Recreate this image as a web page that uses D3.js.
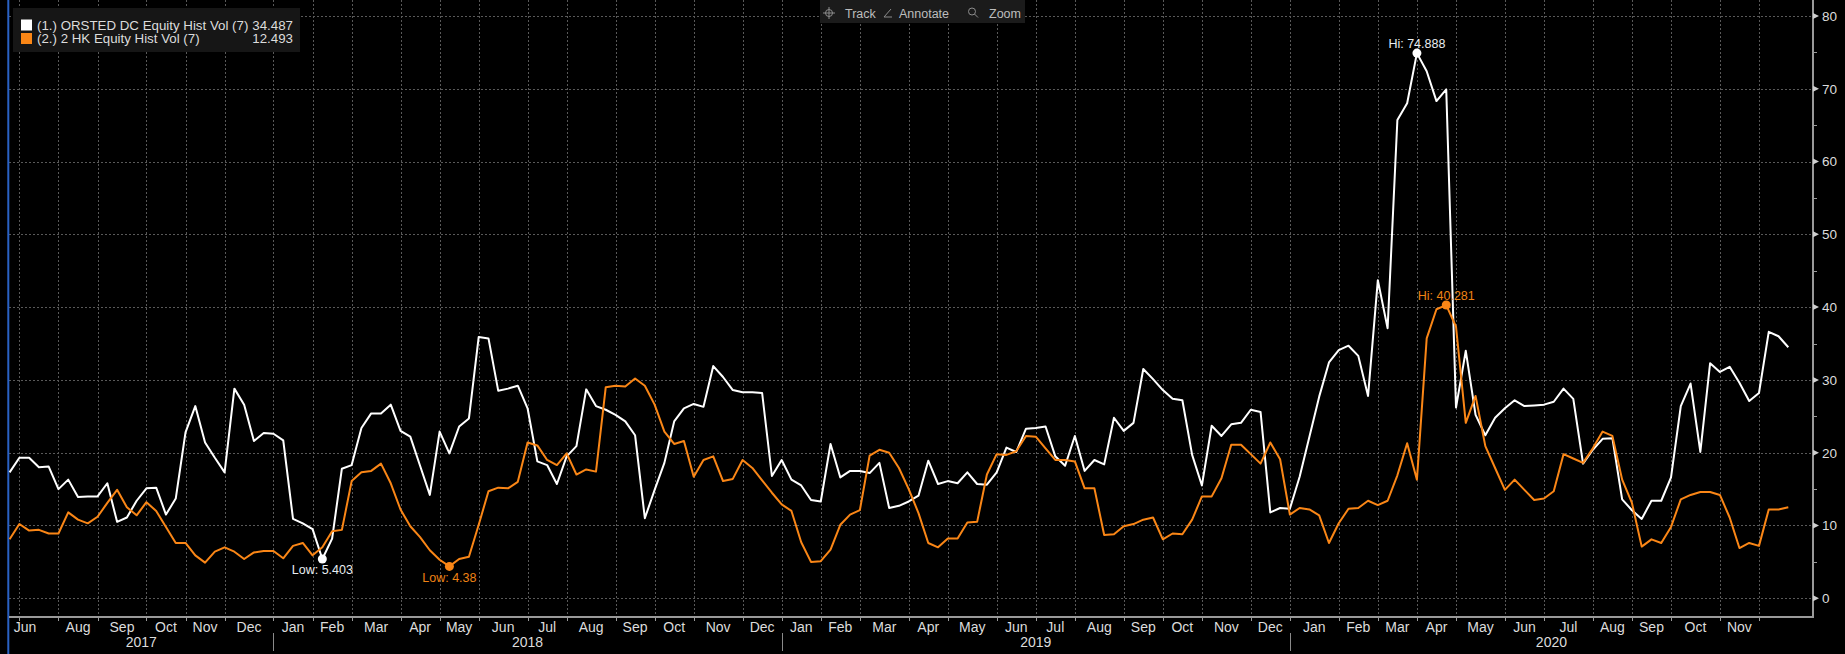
<!DOCTYPE html>
<html>
<head>
<meta charset="utf-8">
<script src="https://cdn.jsdelivr.net/npm/d3@7"></script>
<style>
  body { margin: 0; background: #000; overflow: hidden; }
  svg { display: block; }
  text { font-family: "Liberation Sans", Arial, sans-serif; }
  .narrow { font-family: "Liberation Sans Narrow", "Arial Narrow", "Liberation Sans", sans-serif; }
</style>
</head>
<body>
<svg id="chart" width="1845" height="654"></svg>
<script>
// weekly observations (Fridays), first one on 30 Jun 2017
const firstDate = new Date(2017, 5, 30);

const orstedVol = [
  17.3, 19.3, 19.3, 18.0, 18.1, 15.0, 16.3, 13.9, 14.0, 14.0,
  15.8, 10.5, 11.1, 13.4, 15.1, 15.2, 11.5, 13.7, 22.8, 26.4,
  21.4, 19.3, 17.3, 28.8, 26.6, 21.6, 22.7, 22.6, 21.7, 10.9,
  10.3, 9.5, 5.403, 8.2, 17.8, 18.3, 23.4, 25.4, 25.4, 26.6,
  23.0, 22.2, 18.2, 14.2, 22.9, 19.9, 23.6, 24.7, 35.9, 35.7,
  28.5, 28.8, 29.2, 26.1, 18.8, 18.3, 15.7, 19.5, 20.9, 28.7,
  26.4, 25.9, 25.2, 24.3, 22.4, 11.0, 14.9, 18.6, 24.3, 26.1,
  26.7, 26.3, 31.9, 30.4, 28.6, 28.3, 28.3, 28.2, 16.8, 19.0,
  16.3, 15.5, 13.5, 13.3, 21.2, 16.6, 17.5, 17.5, 17.2, 18.6,
  12.4, 12.7, 13.3, 14.1, 18.9, 15.7, 16.1, 15.8, 17.3, 15.7,
  15.6, 17.3, 20.7, 20.1, 23.3, 23.4, 23.6, 19.5, 18.2, 22.3,
  17.5, 19.0, 18.4, 24.8, 23.0, 24.1, 31.5, 30.1, 28.6, 27.4,
  27.2, 19.7, 15.5, 23.7, 22.3, 23.9, 24.1, 25.9, 25.6, 11.8,
  12.4, 12.3, 16.7, 22.2, 27.7, 32.4, 34.1, 34.7, 33.3, 27.8,
  43.7, 37.1, 65.7, 68.0, 74.888, 72.4, 68.3, 69.9, 26.2, 34.0,
  25.2, 22.4, 24.8, 26.1, 27.2, 26.4, 26.5, 26.6, 27.0, 28.8,
  27.4, 18.5, 20.4, 21.9, 22.0, 13.6, 12.1, 10.9, 13.4, 13.4,
  16.6, 26.4, 29.5, 20.1, 32.3, 31.1, 31.8, 29.6, 27.1, 28.2,
  36.6, 36.0, 34.487
];

const hkVol = [
  8.1, 10.2, 9.3, 9.4, 8.9, 8.9, 11.8, 10.8, 10.3, 11.2,
  13.1, 14.9, 12.5, 11.4, 13.2, 12.0, 9.8, 7.6, 7.6, 5.9,
  4.9, 6.4, 7.0, 6.4, 5.4, 6.3, 6.5, 6.5, 5.5, 7.2,
  7.6, 5.9, 7.0, 9.2, 9.4, 16.1, 17.3, 17.5, 18.5, 15.8,
  12.2, 9.9, 8.4, 6.6, 5.3, 4.38, 5.4, 5.7, 10.1, 14.7,
  15.2, 15.1, 16.0, 21.4, 21.0, 19.0, 18.3, 19.9, 17.0, 17.7,
  17.4, 29.0, 29.2, 29.1, 30.2, 29.2, 26.6, 22.9, 21.2, 21.6,
  16.7, 19.0, 19.5, 16.1, 16.4, 19.0, 17.9, 16.2, 14.5, 12.9,
  12.0, 7.7, 5.0, 5.1, 6.7, 10.1, 11.5, 12.1, 19.6, 20.4,
  20.0, 17.9, 15.0, 11.7, 7.6, 7.0, 8.2, 8.2, 10.4, 10.5,
  17.0, 19.8, 19.7, 20.2, 22.3, 22.2, 20.6, 19.0, 19.0, 18.8,
  15.1, 15.1, 8.7, 8.8, 9.9, 10.2, 10.8, 11.1, 8.1, 8.9,
  8.8, 10.8, 14.0, 14.0, 16.5, 21.1, 21.1, 19.8, 18.5, 21.4,
  19.1, 11.5, 12.4, 12.2, 11.4, 7.6, 10.3, 12.3, 12.4, 13.4,
  12.8, 13.4, 16.9, 21.3, 16.3, 35.7, 39.7, 40.281, 37.3, 24.1,
  27.8, 20.9, 17.9, 14.9, 16.3, 14.9, 13.5, 13.7, 14.7, 19.8,
  19.2, 18.6, 20.6, 22.9, 22.3, 16.3, 13.1, 7.1, 8.1, 7.6,
  9.8, 13.6, 14.2, 14.6, 14.6, 14.2, 11.1, 6.9, 7.6, 7.2,
  12.2, 12.2, 12.493
];

const seriesNames = ["(1.) ORSTED DC Equity Hist Vol (7)", "(2.) 2 HK Equity Hist Vol (7)"];
const seriesColors = ["#ffffff", "#fa8616"];
const yTicks = [0, 10, 20, 30, 40, 50, 60, 70, 80];
const yMinorTicks = [5, 15, 25, 35, 45, 55, 65, 75];
const monthNames = ["Jan", "Feb", "Mar", "Apr", "May", "Jun", "Jul", "Aug", "Sep", "Oct", "Nov", "Dec"];
const toolbarItems = ["Track", "Annotate", "Zoom"];

const dates = orstedVol.map((_, i) => d3.timeDay.offset(firstDate, 7 * i));

const H = 654;
const left = 9, right = 1813, axisY = 617;
const gridCol = "#595959", axisCol = "#9a9a9a", textCol = "#dcdcdc";

const svg = d3.select("#chart");

const x = d3.scaleTime().domain([dates[0], dates[dates.length - 1]]).range([9.6, 1788.3]);
const y = d3.scaleLinear().domain([0, 80]).range([598.3, 15.9]);

// first observation of each month -> grid lines
const monthStarts = dates.filter((d, i) => i > 0 && d.getMonth() !== dates[i - 1].getMonth());

const grid = svg.append("g").attr("stroke", gridCol).attr("stroke-width", 1).attr("stroke-dasharray", "2,2");
grid.selectAll(".vg").data(monthStarts).enter().append("line")
  .attr("x1", d => Math.round(x(d)) + 0.5).attr("x2", d => Math.round(x(d)) + 0.5)
  .attr("y1", 0).attr("y2", axisY);
grid.selectAll(".hg").data(yTicks).enter().append("line")
  .attr("x1", left).attr("x2", right)
  .attr("y1", d => Math.round(y(d)) + 0.5).attr("y2", d => Math.round(y(d)) + 0.5);

// blue frame edge on the left
svg.append("line").attr("x1", 8.3).attr("x2", 8.3).attr("y1", 0).attr("y2", H)
  .attr("stroke", "#2a62c4").attr("stroke-width", 2);

// axes
svg.append("line").attr("x1", left).attr("x2", right + 1).attr("y1", axisY).attr("y2", axisY)
  .attr("stroke", axisCol).attr("stroke-width", 2);
svg.append("line").attr("x1", right).attr("x2", right).attr("y1", 0).attr("y2", axisY)
  .attr("stroke", axisCol).attr("stroke-width", 2);

// x ticks
svg.append("g").selectAll("line").data(monthStarts).enter().append("line")
  .attr("x1", d => Math.round(x(d)) + 0.5).attr("x2", d => Math.round(x(d)) + 0.5)
  .attr("y1", axisY).attr("y2", axisY + 4).attr("stroke", axisCol);

// month labels centred between month grid lines
const bounds = [x.invert(left)].concat(monthStarts);
const monthLabels = [];
for (let i = 0; i < bounds.length - 1; i++) {
  let cx = (x(bounds[i]) + x(bounds[i + 1])) / 2;
  const mDate = i === 0 ? dates[0] : bounds[i];
  if (i === 0) cx = Math.max(cx, left + 16);
  const prev = monthLabels[monthLabels.length - 1];
  if (prev && cx - prev.cx < 26) continue;
  monthLabels.push({cx, text: monthNames[mDate.getMonth()]});
}
svg.append("g").selectAll("text").data(monthLabels).enter().append("text")
  .attr("class", "narrow")
  .attr("x", d => d.cx).attr("y", 631.5)
  .attr("text-anchor", "middle").attr("font-size", 14).attr("fill", textCol)
  .text(d => d.text);

// year labels and separators
const yearStarts = monthStarts.filter(d => d.getMonth() === 0);
const yearEdges = [left].concat(yearStarts.map(d => x(d)), [right]);
const years = [2017].concat(yearStarts.map(d => d.getFullYear()));
svg.append("g").selectAll("text").data(years).enter().append("text")
  .attr("class", "narrow")
  .attr("x", (d, i) => (yearEdges[i] + yearEdges[i + 1]) / 2).attr("y", 646.5)
  .attr("text-anchor", "middle").attr("font-size", 14).attr("fill", textCol)
  .text(d => d);
svg.append("g").selectAll("line").data(yearStarts).enter().append("line")
  .attr("x1", d => Math.round(x(d)) + 0.5).attr("x2", d => Math.round(x(d)) + 0.5)
  .attr("y1", 633).attr("y2", 651).attr("stroke", "#8a8a8a");

// right y axis: triangles at majors, short ticks at minors
const yAxis = svg.append("g");
yAxis.selectAll("path").data(yTicks).enter().append("path")
  .attr("d", d => `M${right},${y(d) - 3}L${right + 6},${y(d)}L${right},${y(d) + 3}Z`)
  .attr("fill", "#cfcfcf");
yAxis.selectAll("line").data(yMinorTicks).enter().append("line")
  .attr("x1", right).attr("x2", right + 4)
  .attr("y1", d => Math.round(y(d)) + 0.5).attr("y2", d => Math.round(y(d)) + 0.5)
  .attr("stroke", axisCol);
yAxis.selectAll("text").data(yTicks).enter().append("text")
  .attr("x", right + 9).attr("y", d => y(d) + 4.8)
  .attr("font-size", 13.5).attr("fill", textCol).text(d => d);

// series lines
const line = d3.line().x((d, i) => x(dates[i])).y(d => y(d));
[orstedVol, hkVol].forEach((s, k) => {
  svg.append("path").datum(s).attr("d", line)
    .attr("fill", "none").attr("stroke", seriesColors[k]).attr("stroke-width", 2)
    .attr("stroke-linejoin", "round");
});

// high / low markers
const markerCols = ["#e9eef2", "#f08314"];
[orstedVol, hkVol].forEach((s, k) => {
  const hiI = d3.maxIndex(s), loI = d3.minIndex(s);
  [[hiI, "Hi: ", -5.5], [loI, "Low: ", 15.5]].forEach(([i, pre, dy]) => {
    svg.append("circle").attr("cx", x(dates[i])).attr("cy", y(s[i])).attr("r", 4.5)
      .attr("fill", seriesColors[k]);
    svg.append("text").attr("x", x(dates[i])).attr("y", y(s[i]) + dy)
      .attr("text-anchor", "middle").attr("font-size", 12.5).attr("fill", markerCols[k])
      .text(pre + s[i]);
  });
});

// legend
const lg = svg.append("g");
lg.append("rect").attr("x", 13).attr("y", 8).attr("width", 287).attr("height", 44).attr("fill", "#161616");
[orstedVol, hkVol].forEach((s, k) => {
  const cy = 25 + k * 13.5;
  lg.append("rect").attr("x", 21).attr("y", cy - 5.5).attr("width", 11).attr("height", 11)
    .attr("fill", seriesColors[k]);
  lg.append("text").attr("x", 37).attr("y", cy + 4.5).attr("font-size", 13.3).attr("fill", textCol)
    .text(seriesNames[k]);
  lg.append("text").attr("x", 293).attr("y", cy + 4.5).attr("font-size", 13.3).attr("fill", textCol)
    .attr("text-anchor", "end").text(d3.format(".3f")(s[s.length - 1]));
});

// toolbar
const tb = svg.append("g");
tb.append("rect").attr("x", 820).attr("y", 0).attr("width", 205).attr("height", 23).attr("fill", "#1b1b1b");
const tbX = [845, 899, 989];
tb.selectAll("text").data(toolbarItems).enter().append("text")
  .attr("x", (d, i) => tbX[i]).attr("y", 18).attr("font-size", 12.5).attr("fill", "#bdbdbd")
  .text(d => d);
const ic = tb.append("g").attr("stroke", "#8c8c8c").attr("fill", "none").attr("stroke-width", 1);
ic.append("circle").attr("cx", 829).attr("cy", 13).attr("r", 3.5);
ic.append("path").attr("d", "M823,13H835M829,7V19");
ic.append("path").attr("d", "M884,17L891,9M884,17H892");
ic.append("circle").attr("cx", 972).attr("cy", 11.5).attr("r", 3.5);
ic.append("path").attr("d", "M974.5,14L978,17.5");
</script>
</body>
</html>
